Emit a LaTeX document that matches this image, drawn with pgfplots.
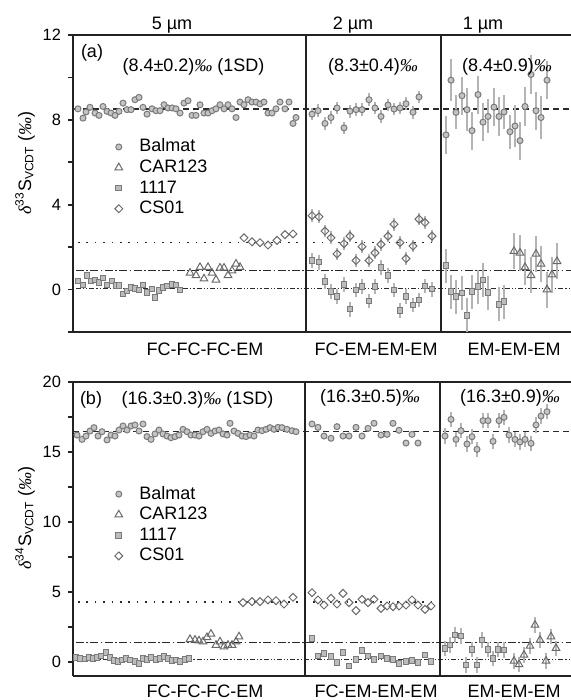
\documentclass[border=0pt]{standalone}
\usepackage{fontspec}
\setmainfont{Liberation Sans}
\newfontfamily\serif{Liberation Serif}
\usepackage{pgfplots}
\pgfplotsset{compat=1.18}
\definecolor{markfill}{HTML}{C4C4C4}
\definecolor{markedge}{HTML}{7A7A7A}
\definecolor{sqfill}{HTML}{BCBCBC}
\definecolor{openedge}{HTML}{6A6A6A}
\definecolor{ebar}{HTML}{B4B4B4}
\definecolor{axcol}{HTML}{222222}
\definecolor{mline}{HTML}{2A2A2A}
\newcommand{\permil}{{\serif\itshape ‰}}
\newcommand{\txt}{\fontsize{9}{10}\selectfont}
\pgfplotsset{
 panel/.style={scale only axis, width=249pt, xmin=0, xmax=498,
  axis x line*=box, axis y line*=left,
  axis line style={-, line width=1pt, color=axcol},
  xtick=\empty, tick align=outside,
  major tick length=2.5pt, minor tick length=2.5pt,
  tick style={line width=0.8pt, color=axcol},
  /pgf/number format/assume math mode=true,
  tick label style={font=\fontsize{8.2}{9}\selectfont},
  legend cell align=left,
  legend image code/.code={\draw[##1] plot coordinates {(0.2cm,0cm)}; \path (0cm,0cm) (0.52cm,0cm);},
  legend style={draw=none, fill=none, anchor=north west, font=\txt, inner sep=0pt,
    nodes={inner sep=1pt, text height=6.5pt, text depth=1.5pt}, row sep=0.3pt},
  clip=false},
 balmat/.style={only marks, mark=*, mark size=1.5pt, mark options={fill=markfill, draw=markedge, line width=0.5pt}},
 car/.style={only marks, mark=triangle, mark size=2.2pt, mark options={draw=openedge, line width=0.5pt}},
 sq/.style={only marks, mark=square*, mark size=1.4pt, mark options={fill=sqfill, draw=markedge, line width=0.5pt}},
 cs/.style={only marks, mark=square, mark size=1.4pt, mark options={rotate=45, draw=openedge, line width=0.5pt}},
 err/.style={error bars/y dir=both, error bars/y explicit, error bars/error mark=none, error bars/error bar style={draw=ebar, line width=0.6pt}},
 mdash/.style={mline, line width=0.7pt, dash pattern=on 3pt off 2pt},
 mdot/.style={mline, line width=0.8pt, dash pattern=on 0.8pt off 3.4pt},
 mdashdot/.style={mline, line width=0.75pt, dash pattern=on 4pt off 1.2pt on 0.8pt off 1.2pt},
 mdashdotdot/.style={mline, line width=0.7pt, dash pattern=on 2.5pt off 1pt on 0.6pt off 1pt on 0.6pt off 1pt},
}
\begin{document}
\begin{tikzpicture}
% ---------------- panel (a)
\begin{axis}[panel, at={(36.5pt,184pt)}, anchor=south west, height=148.5pt,
  ymin=-2, ymax=12, ytick={0,4,8,12}, minor ytick={-2,2,6,10},
  legend style={at={(0.0675,0.658)}}]
\addplot[balmat] table {
x y
5 8.52
10 8.08
13 8.37
17 8.59
22 8.32
26 8.21
30 8.63
34 8.40
38 8.32
42 8.21
46 8.40
50 8.79
54 8.48
58 8.48
62 8.95
66 9.06
70 8.59
74 8.27
79 8.52
83 8.43
87 8.43
91 8.71
95 8.56
99 8.56
103 8.52
107 8.32
111 8.79
115 8.90
119 8.21
123 8.21
127 8.71
131 8.32
135 8.32
139 8.43
143 8.52
147 8.71
151 8.52
155 8.71
159 8.52
163 8.11
167 8.84
171 8.71
175 8.95
179 8.84
183 8.84
187 8.75
191 8.84
195 8.32
199 8.32
203 8.52
207 8.84
212 8.52
216 8.84
220 7.83
223 8.11
};
\addlegendentry{Balmat}
\addplot[car] table {
x y
117 0.78
123 0.67
127 1.05
131 0.51
135 1.05
139 0.78
143 0.46
147 1.02
151 1.02
155 0.67
159 0.89
163 1.21
167 1.05
};
\addlegendentry{CAR123}
\addplot[sq, err] table[x=x, y=y, y error=e] {
x y e
5 0.41 0.15
10 0.22 0.15
14 0.65 0.15
18 0.41 0.15
22 0.46 0.15
26 0.33 0.15
30 0.54 0.15
34 0.22 0.15
39 0.41 0.15
43 0.19 0.15
46 0.19 0.15
50 -0.21 0.15
54 -0.06 0.15
58 0.11 0.15
62 0.06 0.15
66 -0.02 0.15
70 0.22 0.15
74 -0.13 0.15
79 0.03 0.15
82 -0.38 0.15
86 -0.05 0.15
90 0.11 0.15
94 0.17 0.15
99 0.25 0.15
103 0.22 0.15
107 -0.02 0.15
};
\addlegendentry{1117}
\addplot[cs] table {
x y
171 2.44
179 2.25
187 2.21
195 2.10
204 2.32
212 2.59
220 2.62
};
\addlegendentry{CS01}
% mean lines
\addplot[mdash, forget plot] coordinates {(0,8.52) (498,8.52)};
\addplot[mdot, forget plot] coordinates {(5,2.22) (365,2.22)};
\addplot[mdashdot, forget plot] coordinates {(3,0.90) (498,0.90)};
\addplot[mdashdotdot, forget plot] coordinates {(3,0.05) (498,0.05)};
% section 2
\addplot[balmat, err, forget plot] table[x=x, y=y, y error=e] {
x y e
239 8.27 0.3
245 8.43 0.3
252 7.83 0.3
258 8.11 0.3
264 8.56 0.3
271 7.62 0.3
277 8.41 0.3
283 8.48 0.3
289 8.48 0.3
296 8.95 0.3
302 8.56 0.3
308 8.16 0.3
315 8.70 0.3
321 8.51 0.3
327 8.56 0.3
333 8.76 0.3
340 8.36 0.3
346 9.08 0.3
};
\addplot[cs, err, forget plot] table[x=x, y=y, y error=e] {
x y e
239 3.48 0.3
246 3.43 0.3
252 2.76 0.3
258 2.44 0.3
264 1.68 0.3
271 2.16 0.3
277 2.52 0.3
283 1.37 0.3
289 2.02 0.3
296 1.37 0.3
302 1.73 0.3
308 2.13 0.3
315 2.52 0.3
321 3.08 0.3
327 2.21 0.3
333 1.46 0.3
340 2.05 0.3
346 3.32 0.3
352 3.16 0.3
359 2.52 0.3
};
\addplot[sq, err, forget plot] table[x=x, y=y, y error=e] {
x y e
239 1.38 0.35
246 1.29 0.35
252 0.38 0.35
258 -0.10 0.35
264 -0.33 0.35
271 0.25 0.35
277 -0.92 0.35
283 -0.02 0.35
289 0.14 0.35
296 -0.54 0.35
302 0.14 0.35
308 1.05 0.35
315 0.67 0.35
321 -0.02 0.35
327 -0.98 0.35
333 -0.33 0.35
340 -0.73 0.35
346 -0.49 0.35
352 0.17 0.35
359 0.02 0.35
};
% section 3
\addplot[balmat, err, forget plot] table[x=x, y=y, y error=e] {
x y e
373 7.29 0.9
378 9.87 1.0
383 8.35 0.8
389 9.14 0.9
394 8.48 1.0
399 7.49 0.9
405 9.19 0.9
410 7.89 0.9
415 8.16 0.8
421 8.60 0.9
426 8.16 0.9
431 8.37 0.8
437 7.44 0.8
442 7.71 1.0
447 7.02 0.9
452 8.63 0.9
458 10.14 0.9
463 8.43 0.9
468 8.11 1.0
474 9.87 0.9
};
\addplot[sq, err, forget plot] table[x=x, y=y, y error=e] {
x y e
373 1.13 0.8
378 -0.10 0.8
383 -0.33 0.8
389 -0.17 0.8
394 -1.21 0.8
399 -0.10 0.8
405 0.14 0.8
410 0.46 0.8
415 -0.14 0.8
426 -0.70 0.8
431 -0.57 0.8
};
\addplot[car, err, forget plot] table[x=x, y=y, y error=e] {
x y e
441 1.81 0.85
447 1.73 0.85
452 1.05 0.85
458 0.67 0.85
463 1.68 0.85
468 1.21 0.85
474 0.00 0.85
479 0.70 0.85
484 1.33 0.85
};
\draw[line width=1pt, axcol] (axis cs:233,-2) -- (axis cs:233,12);
\draw[line width=1pt, axcol] (axis cs:368,-2) -- (axis cs:368,12);
\end{axis}
% ---------------- panel (b)
\begin{axis}[panel, at={(36.5pt,12pt)}, anchor=south west, height=147pt,
  ymin=-1, ymax=20, ytick={0,5,10,15,20}, minor ytick={2.5,7.5,12.5,17.5},
  legend style={at={(0.0675,0.654)}}]
\addplot[balmat] table {
x y
4 16.21
9 15.90
13 16.14
17 16.50
21 16.74
25 16.14
29 16.45
34 15.86
38 16.21
42 16.14
46 16.57
50 16.86
54 16.57
58 16.86
62 16.93
66 16.50
70 17.00
74 16.10
78 15.90
82 16.29
86 16.57
90 16.29
94 16.14
98 16.02
102 16.10
106 16.21
110 16.62
114 16.45
118 16.21
122 16.21
126 16.14
130 16.45
134 16.62
138 16.33
142 16.50
146 16.57
150 16.29
154 16.21
157 17.05
161 16.50
165 16.33
169 16.14
173 16.10
177 16.21
181 16.14
185 16.57
189 16.52
193 16.62
197 16.74
201 16.62
205 16.76
209 16.74
214 16.62
219 16.52
223 16.45
};
\addlegendentry{Balmat}
\addplot[car] table {
x y
117 1.62
122 1.57
126 1.52
130 1.45
134 1.76
138 2.00
143 1.21
147 1.45
151 1.10
155 1.21
159 1.21
163 1.45
166 1.81
};
\addlegendentry{CAR123}
\addplot[sq] table {
x y
3 0.33
7 0.26
12 0.21
16 0.31
20 0.26
24 0.33
28 0.43
33 0.67
37 0.31
41 0.10
45 0.02
49 0.14
53 0.26
57 0.14
62 0.02
66 -0.10
70 0.26
74 0.19
78 0.31
83 0.19
87 0.26
91 0.38
95 0.26
99 0.10
103 0.14
107 0.02
112 0.19
116 0.26
};
\addlegendentry{1117}
\addplot[cs] table {
x y
170 4.24
179 4.31
187 4.31
195 4.43
203 4.38
211 4.14
220 4.62
};
\addlegendentry{CS01}
\addplot[mdash, forget plot] coordinates {(0,16.48) (498,16.48)};
\addplot[mdot, forget plot] coordinates {(5,4.28) (365,4.28)};
\addplot[mdashdot, forget plot] coordinates {(3,1.40) (498,1.40)};
\addplot[mdashdotdot, forget plot] coordinates {(3,0.20) (498,0.20)};
% section 2
\addplot[balmat, forget plot] table {
x y
239 17.00
245 16.76
251 16.14
258 15.98
264 16.81
270 16.14
276 16.14
283 16.76
289 16.14
295 16.69
301 17.05
308 16.21
314 16.26
320 17.05
326 16.55
333 15.64
339 16.26
345 15.64
};
\addplot[cs, forget plot] table {
x y
239 4.95
245 4.43
251 4.07
258 4.55
264 4.14
270 4.90
276 4.24
283 3.67
289 4.48
295 4.24
301 4.48
308 3.83
314 4.00
320 3.95
326 4.00
333 4.07
339 4.43
345 4.07
352 3.76
358 4.00
};
\addplot[sq, forget plot] table {
x y
239 1.69
245 0.43
251 0.62
258 0.38
264 -0.05
270 0.67
276 -0.29
283 0.19
289 0.81
295 0.43
301 0.19
308 0.43
314 0.26
320 0.19
326 -0.10
333 0.02
339 0.10
345 -0.05
352 0.50
358 0.02
};
% section 3
\addplot[balmat, err, forget plot] table[x=x, y=y, y error=e] {
x y e
372 16.14 0.55
378 17.33 0.55
383 15.90 0.55
388 16.52 0.55
394 15.57 0.55
399 16.09 0.55
404 15.19 0.55
410 17.24 0.55
415 17.24 0.55
420 15.76 0.55
426 17.24 0.55
431 17.48 0.55
436 16.21 0.55
442 15.90 0.55
447 15.71 0.55
452 15.90 0.55
458 15.62 0.55
463 16.93 0.55
468 17.57 0.55
474 17.88 0.55
};
\addplot[sq, err, forget plot] table[x=x, y=y, y error=e] {
x y e
372 0.98 0.55
377 1.21 0.55
382 1.93 0.55
388 1.86 0.55
393 -0.21 0.55
399 0.90 0.55
404 -0.21 0.55
409 1.57 0.55
415 0.90 0.55
420 0.26 0.55
425 0.90 0.55
431 0.86 0.55
};
\addplot[car, err, forget plot] table[x=x, y=y, y error=e] {
x y e
441 0.07 0.55
446 -0.17 0.55
451 0.50 0.55
457 1.14 0.55
462 2.64 0.55
467 1.57 0.55
473 0.07 0.55
478 1.81 0.55
483 0.98 0.55
};
\draw[line width=1pt, axcol] (axis cs:232,-1) -- (axis cs:232,20);
\draw[line width=1pt, axcol] (axis cs:367,-1) -- (axis cs:367,20);
\end{axis}
% ---------------- texts
\begin{scope}[every node/.style={font=\txt, inner sep=0pt}]
\node at (46pt,323.5pt) {(a)};
\node at (96.75pt,316.5pt) {(8.4±0.2)\permil\ (1SD)};
\node at (186.5pt,316.5pt) {(8.3±0.4)\permil};
\node at (253.5pt,316.5pt) {(8.4±0.9)\permil};
\node at (86pt,337.5pt) {5 µm};
\node at (176.5pt,337.5pt) {2 µm};
\node at (241.5pt,337.5pt) {1 µm};
\node at (102.5pt,175.5pt) {FC-FC-FC-EM};
\node at (188pt,175.5pt) {FC-EM-EM-EM};
\node at (257pt,175.5pt) {EM-EM-EM};
\node at (45.5pt,150pt) {(b)};
\node at (98.75pt,150pt) {(16.3±0.3)\permil\ (1SD)};
\node at (185pt,151pt) {(16.3±0.5)\permil};
\node at (255pt,151pt) {(16.3±0.9)\permil};
\node[anchor=base] at (102.5pt,1.2pt) {FC-FC-FC-EM};
\node[anchor=base] at (188pt,1.2pt) {FC-EM-EM-EM};
\node[anchor=base] at (257pt,1.2pt) {EM-EM-EM};
\node[rotate=90] at (12.5pt,268.5pt) {{\serif\itshape δ}\textsuperscript{33}S\textsubscript{VCDT} (\permil)};
\node[rotate=90] at (12.5pt,91pt) {{\serif\itshape δ}\textsuperscript{34}S\textsubscript{VCDT} (\permil)};
\end{scope}
\pgfresetboundingbox
\path[use as bounding box] (0pt,0pt) rectangle (285.5pt,350pt);
\end{tikzpicture}
\end{document}
